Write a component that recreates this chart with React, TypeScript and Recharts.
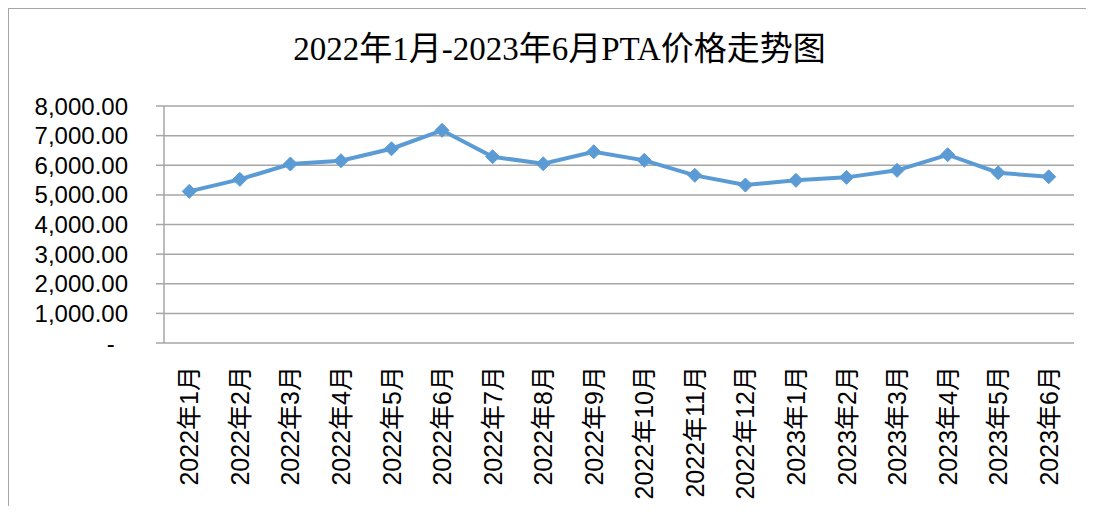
import React from 'react';
import { LineChart, Line, XAxis, YAxis, CartesianGrid } from 'recharts';

const categories = [
  '2022年1月', '2022年2月', '2022年3月', '2022年4月', '2022年5月', '2022年6月',
  '2022年7月', '2022年8月', '2022年9月', '2022年10月', '2022年11月', '2022年12月',
  '2023年1月', '2023年2月', '2023年3月', '2023年4月', '2023年5月', '2023年6月',
];
const prices = [
  5118, 5524, 6041, 6152, 6557, 7179, 6287, 6051, 6456,
  6166, 5659, 5331, 5490, 5591, 5828, 6355, 5747, 5611,
];
const yTicks = [0, 1000, 2000, 3000, 4000, 5000, 6000, 7000, 8000];
const boundaryTicks = [0, 1, 2, 3, 4, 5, 6, 7, 8, 9, 10, 11, 12, 13, 14, 15, 16, 17, 18];
const title = '2022年1月-2023年6月PTA价格走势图';

const data = categories.map((month, i) => ({ month, price: prices[i] }));

const GRAY = '#a6a6a6';
const BLUE = '#5B9BD5';
const SANS = "'Liberation Sans', 'Noto Sans CJK SC', sans-serif";

const fmtY = (v: number) =>
  v === 0
    ? '-\u00a0\u00a0'
    : v.toLocaleString('en-US', { minimumFractionDigits: 2, maximumFractionDigits: 2 });

const XTick = (props: any) => {
  const { x, y, payload } = props;
  return (
    <g transform={`translate(${x},${y})`}>
      <text
        transform="rotate(-90)"
        x={0}
        y={0}
        textAnchor="end"
        dominantBaseline="central"
        fontSize={25}
        fontFamily={SANS}
        fill="#000"
      >
        {payload.value}
      </text>
    </g>
  );
};

const Diamond = (props: any) => {
  const { cx, cy } = props;
  if (cx == null || cy == null) return null;
  const r = 7;
  return (
    <polygon
      points={`${cx},${cy - r} ${cx + r},${cy} ${cx},${cy + r} ${cx - r},${cy}`}
      fill={BLUE}
      stroke={BLUE}
      strokeWidth={1}
    />
  );
};

export default function App() {
  return (
    <>
      <style>{`body{overflow:hidden;}`}</style>
      <div
        style={{
          position: 'relative',
          width: 1086,
          height: 498,
          boxSizing: 'border-box',
          borderTop: `1px solid ${GRAY}`,
          borderLeft: `1px solid ${GRAY}`,
          overflow: 'hidden',
          background: '#fff',
        }}
      >
        <div
          style={{
            position: 'absolute',
            top: 20,
            left: 8,
            width: '100%',
            textAlign: 'center',
            lineHeight: '40px',
            fontSize: 33,
            fontFamily: "'Liberation Serif', 'Noto Sans CJK SC', serif",
            color: '#000',
            zIndex: 1,
          }}
        >
          {title}
        </div>
        <LineChart
          width={1085}
          height={497}
          data={data}
          margin={{ top: 97, right: 20, bottom: 0, left: 0 }}
        >
          <CartesianGrid vertical={false} stroke={GRAY} strokeWidth={1.5} />
          <XAxis
            xAxisId="b"
            type="number"
            domain={[0, 18]}
            ticks={boundaryTicks}
            interval={0}
            allowDataOverflow
            height={0}
            tickSize={8}
            tickFormatter={() => ''}
            axisLine={{ stroke: GRAY, strokeWidth: 1.5 }}
            tickLine={{ stroke: GRAY, strokeWidth: 1.5 }}
          />
          <XAxis
            dataKey="month"
            scale="band"
            interval={0}
            height={163}
            tickSize={0}
            tickMargin={23}
            axisLine={false}
            tickLine={false}
            tick={<XTick />}
          />
          <YAxis
            width={155}
            domain={[0, 8000]}
            ticks={yTicks}
            interval={0}
            tickSize={8}
            tickMargin={28}
            tickFormatter={fmtY}
            axisLine={{ stroke: GRAY, strokeWidth: 1.5 }}
            tickLine={{ stroke: GRAY, strokeWidth: 1.5 }}
            tick={{ fill: '#000', fontSize: 24, fontFamily: SANS }}
          />
          <Line
            type="linear"
            dataKey="price"
            stroke={BLUE}
            strokeWidth={4}
            dot={<Diamond />}
            activeDot={false}
            isAnimationActive={false}
          />
        </LineChart>
      </div>
    </>
  );
}
